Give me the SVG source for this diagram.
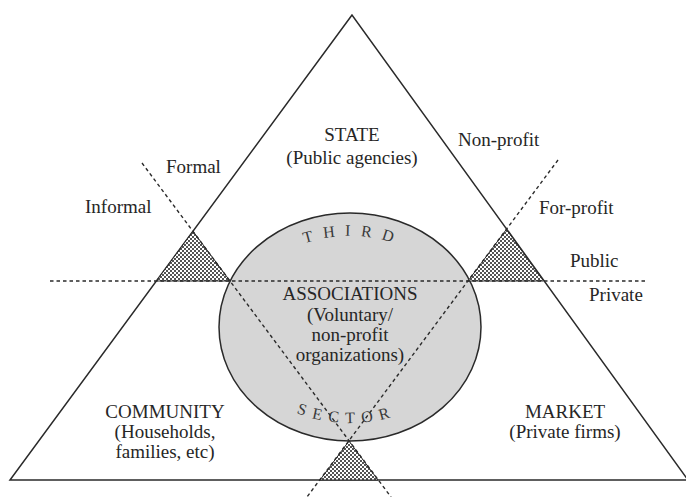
<svg xmlns="http://www.w3.org/2000/svg" width="686" height="497" viewBox="0 0 686 497">
<style>
  .t { font-family: "Liberation Serif", "Times New Roman", serif; font-size: 19px; fill: #262626; }
  .m { text-anchor: middle; }
  .arc { font-family: "Liberation Serif", "Times New Roman", serif; font-size: 16px; fill: #3a3a3a; }
  .solid { fill: none; stroke: #2a2a2a; stroke-width: 1.5; }
  .dash { fill: none; stroke: #2a2a2a; stroke-width: 1.4; stroke-dasharray: 3.5 3; }
  .shade { fill: url(#dots); stroke: #2a2a2a; stroke-width: 1; }
</style>
<defs>
  <pattern id="dots" width="4" height="4" patternUnits="userSpaceOnUse">
    <rect width="4" height="4" fill="#fff"/>
    <circle cx="1" cy="1" r="1" fill="#1a1a1a"/>
    <circle cx="3" cy="3" r="1" fill="#1a1a1a"/>
  </pattern>
  <path id="arcTop" d="M 237 327 A 113 91 0 0 1 463 327"/>
  <path id="arcBot" d="M 230 327 A 120 96 0 0 0 470 327"/>
</defs>
<rect width="686" height="497" fill="#fff"/>

<g id="main-triangle">
  <polygon class="solid" points="352,15 10,480 688,480" fill="#fff"/>
</g>

<g id="third-sector">
  <ellipse cx="350" cy="327" rx="131" ry="114" fill="#d6d6d6" stroke="#2a2a2a" stroke-width="1.5"/>
</g>

<g id="overlaps">
  <polygon class="shade" points="193,231.2 156.4,281 230,281"/>
  <polygon class="shade" points="506.4,229.4 468,281 543.5,281"/>
  <polygon class="shade" points="349,441 320,480 378,480"/>
</g>

<g id="connectors">
  <line class="dash" x1="50" y1="281" x2="648" y2="281"/>
  <line class="dash" x1="142" y1="163" x2="391" y2="497"/>
  <line class="dash" x1="558" y1="160" x2="307" y2="497"/>
</g>

<g id="state">
  <text class="t m" x="352" y="141">STATE</text>
  <text class="t m" x="352" y="164">(Public agencies)</text>
</g>
<g id="market">
  <text class="t m" x="565" y="418">MARKET</text>
  <text class="t m" x="565" y="438">(Private firms)</text>
</g>
<g id="community">
  <text class="t m" x="165" y="418">COMMUNITY</text>
  <text class="t m" x="165" y="438">(Households,</text>
  <text class="t m" x="165" y="458">families, etc)</text>
</g>
<g id="associations">
  <text class="t m" x="350" y="300">ASSOCIATIONS</text>
  <text class="t m" x="350" y="321">(Voluntary/</text>
  <text class="t m" x="350" y="341">non-profit</text>
  <text class="t m" x="350" y="361">organizations)</text>
  <text class="arc" letter-spacing="10"><textPath href="#arcTop" startOffset="51%" text-anchor="middle">THIRD</textPath></text>
  <text class="arc" letter-spacing="7"><textPath href="#arcBot" startOffset="49%" text-anchor="middle">SECTOR</textPath></text>
</g>
<g id="axis-labels">
  <text class="t" x="458" y="146">Non-profit</text>
  <text class="t" x="166" y="173">Formal</text>
  <text class="t" x="85" y="213">Informal</text>
  <text class="t" x="539" y="214">For-profit</text>
  <text class="t" x="570" y="267">Public</text>
  <text class="t" x="589" y="301">Private</text>
</g>
</svg>
